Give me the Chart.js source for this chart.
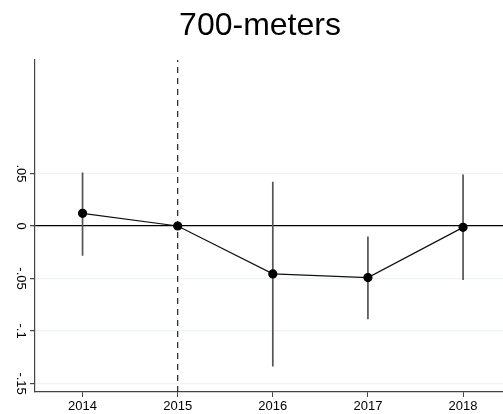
<!DOCTYPE html>
<html>
<head>
<meta charset="utf-8">
<script src="https://cdn.jsdelivr.net/npm/chart.js@4"></script>
<style>
  html, body { margin: 0; padding: 0; background: #fff; }
  #wrap { width: 503px; height: 414px; }
</style>
</head>
<body>
<div id="wrap"><canvas id="chart"></canvas></div>
<script>
// estimates and 95% CI
const years = [2014, 2015, 2016, 2017, 2018];
const coef = [0.0121, 0, -0.0456, -0.0491, -0.0013];
const ciLow = [-0.0282, null, -0.1337, -0.0887, -0.0513];
const ciHigh = [0.051, null, 0.0421, -0.0101, 0.0491];
const yTicks = [-0.15, -0.1, -0.05, 0, 0.05];
const yTickLabels = ['-.15', '-.1', '-.05', '0', '.05'];
const refYear = 2015;

const yMin = -0.158, yMax = 0.158;
const xMin = 2013.5, xMax = 2018.42;

// build the CI segments, split by nulls so each year gets its own bar
const ciPoints = [];
years.forEach((yr, i) => {
  if (ciLow[i] == null) return;
  ciPoints.push({ x: yr, y: ciLow[i] }, { x: yr, y: ciHigh[i] }, { x: yr, y: null });
});

const font = { family: 'Liberation Sans, Arial, Helvetica, sans-serif', size: 13, lineHeight: 1 };

new Chart(document.getElementById('chart'), {
  type: 'line',
  data: {
    datasets: [
      {
        label: 'ref',
        data: [{ x: refYear, y: yMin }, { x: refYear, y: yMax }],
        borderColor: '#222',
        borderWidth: 1.2,
        borderDash: [6, 5],
        pointRadius: 0,
        order: 3
      },
      {
        label: 'ci',
        data: ciPoints,
        borderColor: '#555',
        borderWidth: 1.7,
        pointRadius: 0,
        spanGaps: false,
        order: 2
      },
      {
        label: 'coef',
        data: years.map((yr, i) => ({ x: yr, y: coef[i] })),
        borderColor: '#111',
        borderWidth: 1.2,
        pointRadius: 4,
        pointBackgroundColor: '#000',
        pointBorderColor: '#000',
        tension: 0,
        order: 1
      }
    ]
  },
  options: {
    responsive: true,
    maintainAspectRatio: false,
    animation: false,
    layout: { autoPadding: false, padding: { left: 17, right: 0, top: 0, bottom: 1 } },
    plugins: {
      legend: { display: false },
      tooltip: { enabled: false },
      title: {
        display: true,
        text: '700-meters',
        color: '#000',
        font: { family: font.family, size: 32, weight: 'normal' },
        padding: { top: 7, bottom: 14.6 }
      }
    },
    scales: {
      x: {
        type: 'linear',
        min: xMin,
        max: xMax,
        afterBuildTicks: s => { s.ticks = years.map(v => ({ value: v })); },
        afterFit: s => { s.height = 21; },
        ticks: { color: '#000', font, padding: 3, maxRotation: 0, callback: v => String(v) },
        grid: { drawOnChartArea: false, drawTicks: true, tickLength: 5, tickColor: '#444', tickWidth: 1 },
        border: { color: '#444', width: 1.2 }
      },
      y: {
        type: 'linear',
        min: yMin,
        max: yMax,
        afterBuildTicks: s => { s.ticks = yTicks.map(v => ({ value: v })); },
        afterFit: s => { s.width = 18; },
        ticks: {
          color: '#000',
          font,
          minRotation: -90,
          maxRotation: -90,
          crossAlign: 'center',
          padding: -2,
          callback: v => yTickLabels[yTicks.indexOf(v)] ?? ''
        },
        grid: {
          color: c => (c.tick && c.tick.value === 0 ? '#000' : '#edf3f3'),
          lineWidth: c => (c.tick && c.tick.value === 0 ? 1.3 : 1.2),
          tickLength: 5,
          tickColor: '#444'
        },
        border: { color: '#444', width: 1.2 }
      }
    }
  }
});
</script>
</body>
</html>
